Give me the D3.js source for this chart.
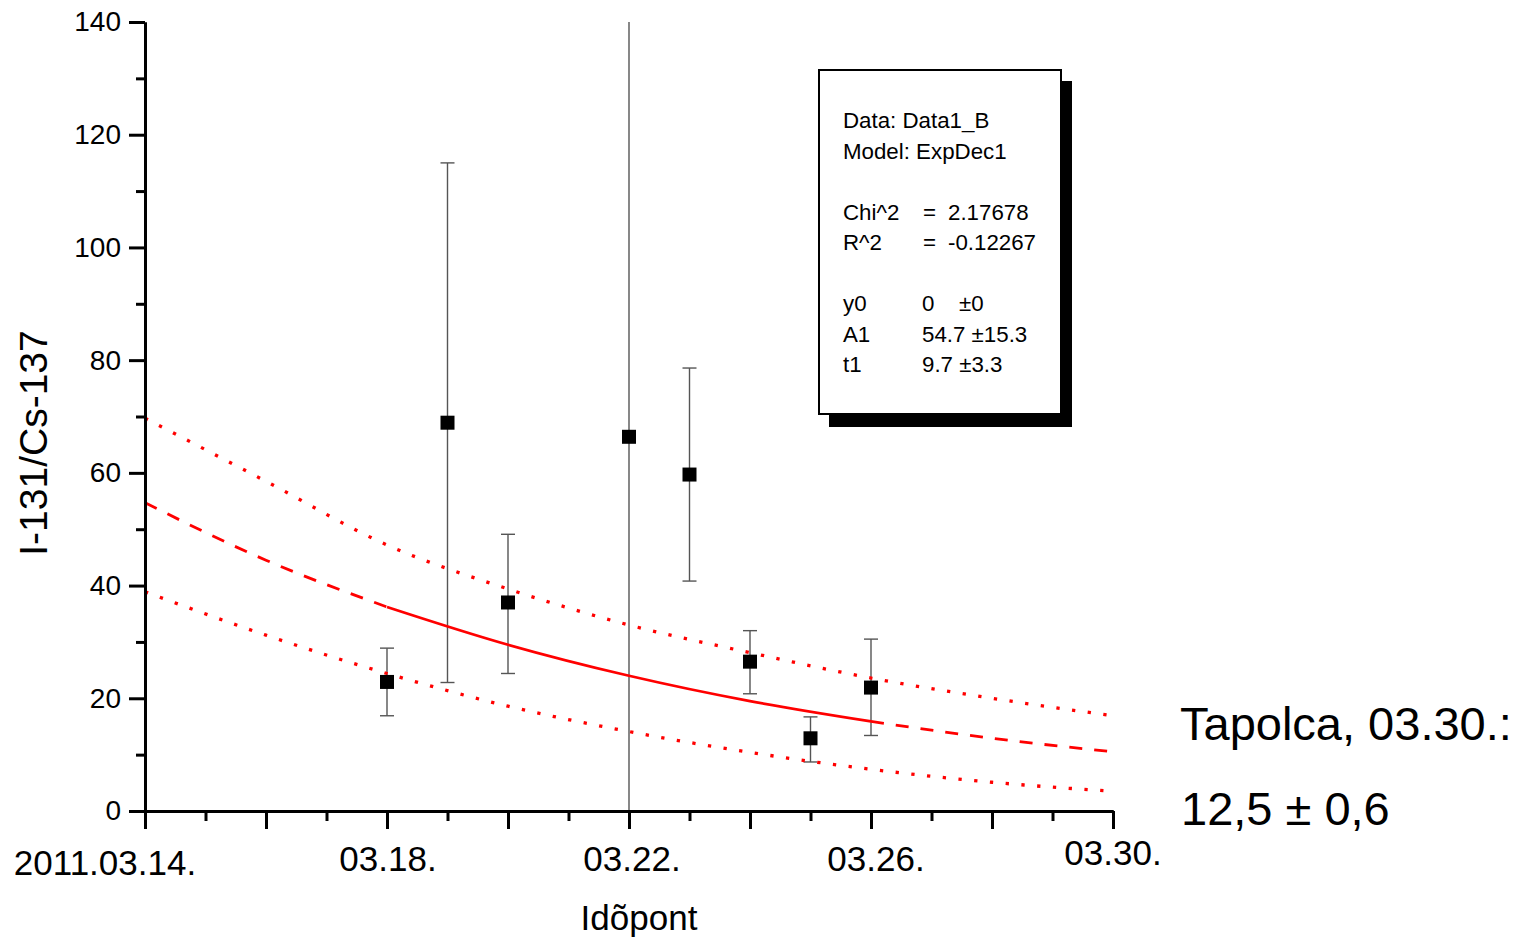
<!DOCTYPE html>
<html>
<head>
<meta charset="utf-8">
<script src="https://cdn.jsdelivr.net/npm/d3@7"></script>
<style>
  body { margin: 0; background: #fff; }
  svg { display: block; font-family: "Liberation Sans", Arial, sans-serif; }
</style>
</head>
<body>
<div class="chart"></div>
<script>
// measured points (day 0 = 2011.03.14.)
var days = [4, 5, 6, 8, 9, 10, 11, 12];
var ratio = [22.9, 68.9, 37.0, 66.4, 59.7, 26.5, 12.9, 21.9];
var errLow = [16.9, 22.8, 24.4, -5, 40.8, 20.8, 8.7, 13.4];
var errHigh = [28.9, 115.0, 49.1, 160, 78.6, 32.0, 16.7, 30.5];

// fitted ExpDec1 curve and its confidence band
var curveDays = [0, 2, 4, 6, 8, 10, 12, 14, 16];
var fitValues = [54.7, 44.5, 36.2, 29.5, 24.0, 19.5, 15.9, 12.9, 10.5];
var upperBand = [69.7, 58.5, 47.2, 39.4, 33.0, 28.1, 23.6, 20.0, 16.9];
var lowerBand = [38.9, 31.2, 24.4, 18.6, 14.1, 10.4, 7.4, 5.1, 3.5];

var xTickDays = [0, 4, 8, 12, 16];
var xTickLabels = ["2011.03.14.", "03.18.", "03.22.", "03.26.", "03.30."];
var yTicks = [0, 20, 40, 60, 80, 100, 120, 140];

// fit info box rows: name, "=" sign, value, error
var legendLines = [
  ["Data: Data1_B", "", "", ""],
  ["Model: ExpDec1", "", "", ""],
  null,
  ["Chi^2", "=", "2.17678", ""],
  ["R^2", "=", "-0.12267", ""],
  null,
  ["y0", "", "0", "\u00b10"],
  ["A1", "", "54.7 \u00b115.3", ""],
  ["t1", "", "9.7 \u00b13.3", ""]
];

var svgWidth = 1529, svgHeight = 937;

var svg = d3.select(".chart").append("svg")
  .attr("width", svgWidth)
  .attr("height", svgHeight);

svg.append("rect").attr("width", svgWidth).attr("height", svgHeight).attr("fill", "#fff");

var x = d3.scaleLinear().domain([0, 16]).range([145, 1113]);
var y = d3.scaleLinear().domain([0, 140]).range([811, 22]);

svg.append("clipPath").attr("id", "plotclip")
  .append("rect")
  .attr("x", 145).attr("y", 22)
  .attr("width", 1113 - 145).attr("height", 811 - 22);

var pts = days.map(function (d, i) {
  return { day: d, v: ratio[i], lo: errLow[i], hi: errHigh[i] };
});

// error bars
var eb = svg.append("g").attr("clip-path", "url(#plotclip)")
  .selectAll("g").data(pts).enter().append("g")
  .attr("stroke", "#555").attr("stroke-width", 1.4);

eb.append("line")
  .attr("x1", d => x(d.day)).attr("x2", d => x(d.day))
  .attr("y1", d => y(d.hi)).attr("y2", d => y(d.lo));
eb.append("line")
  .attr("x1", d => x(d.day) - 7).attr("x2", d => x(d.day) + 7)
  .attr("y1", d => y(d.hi)).attr("y2", d => y(d.hi));
eb.append("line")
  .attr("x1", d => x(d.day) - 7).attr("x2", d => x(d.day) + 7)
  .attr("y1", d => y(d.lo)).attr("y2", d => y(d.lo));

// curves
function series(vals) {
  return curveDays.map(function (d, i) { return { day: d, v: vals[i] }; });
}
var line = d3.line().x(d => x(d.day)).y(d => y(d.v)).curve(d3.curveMonotoneX);

var fit = series(fitValues);
var curves = svg.append("g").attr("fill", "none").attr("stroke", "red");

curves.append("path")
  .attr("d", line(series(upperBand)))
  .attr("stroke-width", 3.3).attr("stroke-dasharray", "3.3,12.5");
curves.append("path")
  .attr("d", line(series(lowerBand)))
  .attr("stroke-width", 3.3).attr("stroke-dasharray", "3.3,12.5");

curves.append("path")
  .attr("d", line(fit.filter(d => d.day <= 4)))
  .attr("stroke-width", 2.8).attr("stroke-dasharray", "13,12");
curves.append("path")
  .attr("d", line(fit.filter(d => d.day >= 12)))
  .attr("stroke-width", 2.8).attr("stroke-dasharray", "13,12");
curves.append("path")
  .attr("d", line(fit.filter(d => d.day >= 4 && d.day <= 12)))
  .attr("stroke-width", 2.8);

// markers
svg.append("g").selectAll("rect").data(pts).enter().append("rect")
  .attr("x", d => x(d.day) - 7).attr("y", d => y(d.v) - 7)
  .attr("width", 14).attr("height", 14)
  .attr("fill", "#000");

// axes
var xMajor = d3.axisBottom(x).tickValues([0, 2, 4, 6, 8, 10, 12, 14, 16])
  .tickSize(18).tickSizeOuter(0).tickFormat("");
var xMinor = d3.axisBottom(x).tickValues([1, 3, 5, 7, 9, 11, 13, 15])
  .tickSize(10).tickSizeOuter(0).tickFormat("");
var yMajor = d3.axisLeft(y).tickValues(yTicks)
  .tickSize(16).tickSizeOuter(0).tickPadding(8);
var yMinor = d3.axisLeft(y).tickValues([10, 30, 50, 70, 90, 110, 130])
  .tickSize(9).tickSizeOuter(0).tickFormat("");

function styleAxis(g) {
  g.selectAll("path, line").attr("stroke", "#000").attr("stroke-width", 3);
}

svg.append("g").attr("transform", "translate(0,811)").call(xMinor).call(styleAxis);
svg.append("g").attr("transform", "translate(0,811)").call(xMajor).call(styleAxis);
svg.append("g").attr("transform", "translate(145,0)").call(yMinor).call(styleAxis);
var yg = svg.append("g").attr("transform", "translate(145,0)").call(yMajor).call(styleAxis);
yg.selectAll("text")
  .attr("font-family", "Liberation Sans, Arial, sans-serif")
  .attr("font-size", 28).attr("fill", "#000");

// x tick labels (first one sits left of its tick, last one a bit higher)
var xLabelShift = [-40, 1, 3, 5, 0];
var xLabelBase = [875, 871, 871, 871, 865];
svg.append("g").selectAll("text").data(xTickDays).enter().append("text")
  .attr("x", (d, i) => x(d) + xLabelShift[i])
  .attr("y", (d, i) => xLabelBase[i])
  .attr("text-anchor", "middle")
  .attr("font-size", 35)
  .text((d, i) => xTickLabels[i]);

// axis titles
svg.append("text")
  .attr("x", 639).attr("y", 930)
  .attr("text-anchor", "middle")
  .attr("font-size", 35)
  .text("Idõpont");

svg.append("text")
  .attr("transform", "translate(47,443) rotate(-90)")
  .attr("text-anchor", "middle")
  .attr("font-size", 39)
  .text("I-131/Cs-137");

// fit info box
svg.append("rect")
  .attr("x", 829).attr("y", 81).attr("width", 243).attr("height", 346)
  .attr("fill", "#000");
svg.append("rect")
  .attr("x", 819).attr("y", 70).attr("width", 242).attr("height", 344)
  .attr("fill", "#fff").attr("stroke", "#000").attr("stroke-width", 2);

var lg = svg.append("g").attr("font-size", 22.3);
legendLines.forEach(function (l, i) {
  if (!l) return;
  var by = 128 + i * 30.5;
  lg.append("text").attr("x", 843).attr("y", by).text(l[0]);
  if (l[1]) lg.append("text").attr("x", 923).attr("y", by).text(l[1]);
  if (l[2]) lg.append("text").attr("x", l[1] ? 948 : 922).attr("y", by).text(l[2]);
  if (l[3]) lg.append("text").attr("x", 959).attr("y", by).text(l[3]);
});

// side note
svg.append("text").attr("x", 1180).attr("y", 740)
  .attr("font-size", 47).text("Tapolca, 03.30.:");
svg.append("text").attr("x", 1181).attr("y", 825)
  .attr("font-size", 47).text("12,5 \u00b1 0,6");
</script>
</body>
</html>
